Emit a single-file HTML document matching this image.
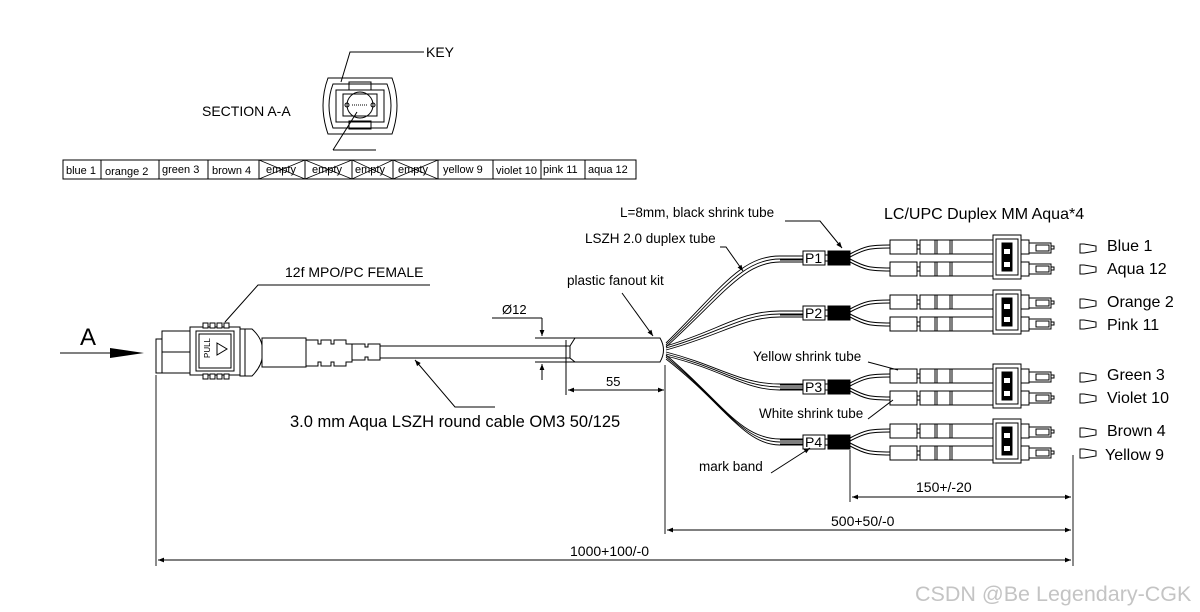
<!DOCTYPE html>
<html><head><meta charset="utf-8"><style>
html,body{margin:0;padding:0;background:#fff}
svg{display:block}
text{font-family:"Liberation Sans",Arial,sans-serif;fill:#000}
</style></head><body>
<svg width="1200" height="612" viewBox="0 0 1200 612" xmlns="http://www.w3.org/2000/svg">
<defs>
<marker id="ar" viewBox="0 0 10 10" refX="10" refY="5" markerWidth="8" markerHeight="6" orient="auto-start-reverse" markerUnits="userSpaceOnUse"><path d="M0,1 L10,5 L0,9z" fill="#000"/></marker>
<g id="lc" fill="none" stroke="#000" stroke-width="1">
  <rect x="3" y="-7" width="22" height="14" fill="#fff"/>
  <rect x="28" y="-7" width="22" height="14" fill="#000"/>
  <line x1="-20" y1="-2" x2="3" y2="-2"/><line x1="-20" y1="2" x2="3" y2="2"/>
  <line x1="25" y1="-3" x2="28" y2="-3"/><line x1="25" y1="3" x2="28" y2="3"/>
  <path d="M50,-4 C65,-12 70,-13 90,-13 M50,-1 C65,-9 70,-10 90,-10"/>
  <path d="M50,4 C65,12 70,13 90,13 M50,1 C65,9 70,10 90,10"/>
  <rect x="90" y="-18" width="27" height="14" fill="#fff"/>
  <rect x="90" y="4" width="27" height="14" fill="#fff"/>
  <line x1="117" y1="-13" x2="120" y2="-13"/><line x1="117" y1="-9" x2="120" y2="-9"/>
  <line x1="117" y1="9" x2="120" y2="9"/><line x1="117" y1="13" x2="120" y2="13"/>
  <rect x="120" y="-18" width="73" height="14" fill="#fff"/>
  <rect x="120" y="4" width="73" height="14" fill="#fff"/>
  <path d="M135,-18v14 M137,-18v14 M150,-18v14 M152,-18v14 M135,4v14 M137,4v14 M150,4v14 M152,4v14"/>
  <rect x="193" y="-23" width="28" height="44" fill="#fff"/>
  <rect x="196" y="-19" width="22" height="36"/>
  <rect x="202" y="-15" width="10" height="28" fill="#000"/>
  <rect x="204" y="-9" width="6" height="5" fill="#fff" stroke="none"/>
  <rect x="204" y="4" width="6" height="5" fill="#fff" stroke="none"/>
  <rect x="221" y="-18" width="8" height="14" fill="#fff"/><rect x="221" y="4" width="8" height="14" fill="#fff"/>
  <rect x="229" y="-15" width="22" height="10" fill="#fff"/><rect x="229" y="6" width="22" height="10" fill="#fff"/>
  <rect x="236" y="-13" width="13" height="6"/><rect x="236" y="8" width="13" height="6"/>
  <path d="M251,-12h3v3h-3 M251,9h3v3h-3"/>
  <path d="M280,-14 v9 h4 l12,-2 v-5 l-12,-2z M280,7 v9 h4 l12,-2 v-5 l-12,-2z" fill="#fff"/>
</g>
</defs>

<text x="202" y="116" font-size="14">SECTION A-A</text>
<text x="426" y="57" font-size="14">KEY</text>
<g fill="none" stroke="#000" stroke-width="1">
<path d="M424,52 H350 L341,82"/>
<path d="M328,78 H392 Q402,105 392,134 H328 Q318,105 328,78z"/>
<path d="M333,84 H387 Q395,105 387,128 H333 Q325,105 333,84z"/>
<rect x="336" y="90" width="48" height="32"/>
<rect x="343" y="94" width="34" height="22"/>
<rect x="349" y="82" width="22" height="8"/><rect x="349" y="121" width="22" height="8"/>
<circle cx="360" cy="105" r="13"/>
<circle cx="347" cy="105" r="2"/><circle cx="373" cy="105" r="2"/>
<line x1="352" y1="105" x2="368" y2="105" stroke-dasharray="1,1"/>
<path d="M333,150 L357,112"/><line x1="333" y1="150" x2="376" y2="150"/>
</g>
<g font-size="11">
<rect x="63" y="160" width="573" height="19" fill="none" stroke="#000"/>
<g stroke="#000" stroke-width="1">
<line x1="101" y1="160" x2="101" y2="179"/><line x1="159" y1="160" x2="159" y2="179"/>
<line x1="208" y1="160" x2="208" y2="179"/><line x1="259" y1="160" x2="259" y2="179"/>
<line x1="305" y1="160" x2="305" y2="179"/><line x1="352" y1="160" x2="352" y2="179"/>
<line x1="393" y1="160" x2="393" y2="179"/><line x1="438" y1="160" x2="438" y2="179"/>
<line x1="493" y1="160" x2="493" y2="179"/><line x1="541" y1="160" x2="541" y2="179"/>
<line x1="585" y1="160" x2="585" y2="179"/>
<path d="M259,160L305,179M305,160L259,179M305,160L352,179M352,160L305,179M352,160L393,179M393,160L352,179M393,160L438,179M438,160L393,179" stroke-width="0.7"/>
</g>
<text x="66" y="174">blue 1</text><text x="105" y="175">orange 2</text><text x="162" y="173">green 3</text>
<text x="212" y="174">brown 4</text><text x="266" y="173">empty</text><text x="312" y="173">empty</text>
<text x="355" y="173">empty</text><text x="398" y="173">empty</text><text x="443" y="173">yellow 9</text>
<text x="496" y="174">violet 10</text><text x="543" y="173">pink 11</text><text x="588" y="173">aqua 12</text>
</g>

<text x="80" y="345" font-size="24">A</text>
<line x1="60" y1="353" x2="112" y2="353" stroke="#000"/>
<path d="M110,348 L144,353 L110,358z" fill="#000"/>

<g fill="#fff" stroke="#000" stroke-width="1">
<rect x="156" y="339" width="6" height="34"/>
<rect x="162" y="331" width="30" height="42"/>
<line x1="162" y1="352" x2="192" y2="352"/>
<rect x="190" y="327" width="50" height="48"/>
<rect x="196" y="331" width="38" height="40"/>
<rect x="199" y="334" width="32" height="34"/>
<rect x="203" y="323" width="5" height="5"/><rect x="210" y="323" width="5" height="5"/><rect x="217" y="323" width="5" height="5"/><rect x="224" y="323" width="5" height="5"/>
<rect x="203" y="374" width="5" height="5"/><rect x="210" y="374" width="5" height="5"/><rect x="217" y="374" width="5" height="5"/><rect x="224" y="374" width="5" height="5"/>
<path d="M240,329 H252 Q264,340 262,352 Q264,364 252,376 H240z"/>
<line x1="245" y1="329" x2="245" y2="376"/>
<rect x="262" y="338" width="44" height="29"/>
<path d="M306,340 h12 v4 h3 v-4 h10 v4 h3 v-4 h12 v4 h6 v18 h-6 v4 h-12 v-4 h-3 v4 h-10 v-4 h-3 v4 h-12z"/>
<path d="M352,344 h13 v3 h3 v-3 h12 v16 h-12 v-3 h-3 v3 h-13z"/>
<rect x="380" y="346" width="190" height="12"/>
<path d="M570,346 L575,338 H660 Q667,350 660,362 H575 L570,358z"/>
</g>
<path d="M217,343 L227,349 L217,355z" fill="none" stroke="#000"/>
<text transform="translate(210,358) rotate(-90)" font-size="8" fill="#a33">PULL</text>

<text x="285" y="277" font-size="14">12f MPO/PC FEMALE</text>
<path d="M430,285 H258 L225,322" fill="none" stroke="#000"/>

<text x="290" y="427" font-size="16.5">3.0 mm Aqua LSZH round cable OM3 50/125</text>
<path d="M495,407 H455 L415,360" fill="none" stroke="#000" marker-end="url(#ar)"/>

<text x="502" y="314" font-size="13">Ø12</text>
<g stroke="#000" fill="none">
<line x1="492" y1="318" x2="542" y2="318"/>
<line x1="542" y1="318" x2="542" y2="336" marker-end="url(#ar)"/>
<line x1="535" y1="338" x2="575" y2="338"/>
<line x1="535" y1="362" x2="575" y2="362"/>
<line x1="542" y1="380" x2="542" y2="364" marker-end="url(#ar)"/>
<line x1="566" y1="340" x2="566" y2="395"/>
<line x1="568" y1="390" x2="664" y2="390" marker-start="url(#ar)" marker-end="url(#ar)"/>
</g>
<text x="606" y="386" font-size="13">55</text>

<text x="567" y="285" font-size="13.5">plastic fanout kit</text>
<line x1="622" y1="293" x2="653" y2="336" stroke="#000" marker-end="url(#ar)"/>

<g fill="none" stroke="#000" stroke-width="0.9">
<path d="M666,343 C720,290 740,256 780,256 H803 M666,345 C722,292 742,259 780,259 H803 M666,347 C724,294 744,262 780,262 H803"/>
<path d="M666,346 C720,330 740,311 780,311 H803 M666,348 C722,332 742,314 780,314 H803 M666,350 C724,334 744,317 780,317 H803"/>
<path d="M666,352 C720,366 740,384 780,384 H803 M666,354 C722,368 742,387 780,387 H803 M666,356 C724,370 744,390 780,390 H803"/>
<path d="M666,355 C720,400 740,439 780,439 H803 M666,357 C722,402 742,442 780,442 H803 M666,359 C724,404 744,445 780,445 H803"/>
</g>

<use href="#lc" transform="translate(800,258)"/>
<use href="#lc" transform="translate(800,313)"/>
<use href="#lc" transform="translate(800,387)"/>
<use href="#lc" transform="translate(800,442)"/>
<g font-size="14"><text x="805" y="263">P1</text><text x="805" y="318">P2</text><text x="805" y="392">P3</text><text x="805" y="447">P4</text></g>

<text x="884" y="219" font-size="16">LC/UPC Duplex MM Aqua*4</text>
<g font-size="16">
<text x="1107" y="251">Blue 1</text><text x="1107" y="274">Aqua 12</text>
<text x="1107" y="307">Orange 2</text><text x="1107" y="330">Pink 11</text>
<text x="1107" y="380">Green 3</text><text x="1107" y="403">Violet 10</text>
<text x="1107" y="436">Brown 4</text><text x="1105" y="460">Yellow 9</text>
</g>

<g fill="none" stroke="#000">
<path d="M785,221 H820 L842,248" marker-end="url(#ar)"/>
<path d="M720,247 H726 L743,271" marker-end="url(#ar)"/>
<path d="M868,362 L898,370"/>
<path d="M868,419 L893,400"/>
<path d="M771,473 L810,448" marker-end="url(#ar)"/>
</g>
<g font-size="13.5">
<text x="620" y="217">L=8mm, black shrink tube</text>
<text x="585" y="243">LSZH 2.0 duplex tube</text>
<text x="753" y="361">Yellow shrink tube</text>
<text x="759" y="418">White shrink tube</text>
<text x="699" y="471">mark band</text>
</g>

<g stroke="#000" fill="none" stroke-width="0.9">
<line x1="850" y1="450" x2="850" y2="502"/>
<line x1="1073" y1="455" x2="1073" y2="566"/>
<line x1="852" y1="497" x2="1071" y2="497" marker-start="url(#ar)" marker-end="url(#ar)"/>
<line x1="665" y1="365" x2="665" y2="534"/>
<line x1="667" y1="530" x2="1071" y2="530" marker-start="url(#ar)" marker-end="url(#ar)"/>
<line x1="156" y1="375" x2="156" y2="566"/>
<line x1="158" y1="560" x2="1071" y2="560" marker-start="url(#ar)" marker-end="url(#ar)"/>
</g>
<g font-size="14">
<text x="916" y="492">150+/-20</text>
<text x="831" y="526">500+50/-0</text>
<text x="570" y="556">1000+100/-0</text>
</g>

<text x="915" y="601" font-size="21.5" style="fill:#c4c4c4">CSDN @Be Legendary-CGK</text>
</svg>
</body></html>
